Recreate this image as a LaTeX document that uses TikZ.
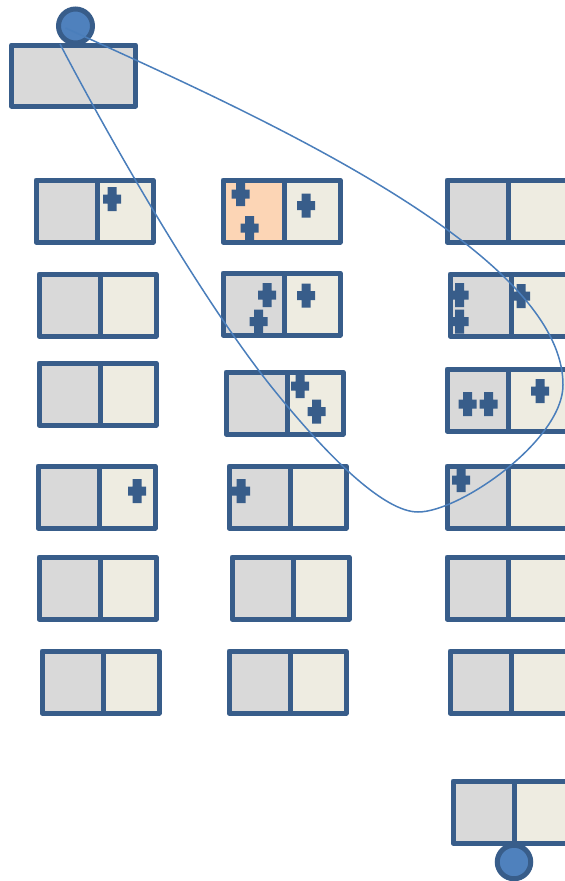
\documentclass[tikz,border=0pt]{standalone}
\usetikzlibrary{calc}
\definecolor{borderC}{HTML}{385D8A}
\definecolor{grayC}{HTML}{D9D9D9}
\definecolor{beigeC}{HTML}{EEECE1}
\definecolor{orangeC}{HTML}{FCD5B5}
\definecolor{circC}{HTML}{4F81BD}
\definecolor{curveC}{HTML}{4A7EBB}
\tikzset{
  cell/.style={draw=borderC, line width=5pt, inner sep=0pt, outer sep=0pt, minimum height=62pt, line join=round, shape=rectangle},
  crossfill/.style={fill=borderC},
  dot/.style={circle, draw=borderC, fill=circC, line width=5pt, inner sep=0pt, outer sep=0pt},
  loopline/.style={draw=curveC, line width=1.5pt}
}
% name, x, y, left fill, right width
\newcommand\pbox[5]{%
  \node[cell, fill=#4, minimum width=61pt, anchor=north west] (#1l) at (#2,#3) {};
  \node[cell, fill=beigeC, minimum width=#5pt, anchor=north west] (#1r) at (#1l.north east) {};}
\newcommand\crs[2]{%
  \fill[crossfill] ({#1-4.5},{#2-12}) rectangle ({#1+4.5},{#2+12})
                   ({#1-9},{#2-4.5}) rectangle ({#1+9},{#2+4.5});}
\begin{document}
\begin{tikzpicture}[x=1pt,y=-1pt]
\clip (0,0) rectangle (565,881);
\fill[white] (0,0) rectangle (565,881);
% top box
\node[cell, fill=grayC, minimum width=124pt, minimum height=61pt, anchor=north west] (t) at (11.5,45) {};
% column 1
\pbox{a1}{36}{180}{grayC}{56}
\pbox{a2}{39}{274}{grayC}{56}
\pbox{a3}{39}{363}{grayC}{56}
\pbox{a4}{38}{466}{grayC}{56}
\pbox{a5}{39}{557}{grayC}{56}
\pbox{a6}{42}{651}{grayC}{56}
% column 2
\pbox{b1}{223}{180}{orangeC}{56}
\pbox{b2}{223}{273}{grayC}{56}
\pbox{b3}{226}{372}{grayC}{56}
\pbox{b4}{229}{466}{grayC}{56}
\pbox{b5}{232}{557}{grayC}{56}
\pbox{b6}{229}{651}{grayC}{56}
% column 3
\pbox{c1x}{447}{180}{grayC}{62}
\pbox{c2x}{450}{274}{grayC}{62}
\pbox{c3x}{447}{369}{grayC}{62}
\pbox{c4x}{447}{466}{grayC}{62}
\pbox{c5x}{447}{557}{grayC}{62}
\pbox{c6x}{450}{651}{grayC}{62}
\pbox{c7x}{453}{781}{grayC}{62}
% crosses
\crs{112}{199}
\crs{137}{491}
\crs{240.5}{194}
\crs{249.5}{228}
\crs{306}{205.5}
\crs{267}{295}
\crs{258.5}{321.5}
\crs{306}{295.5}
\crs{300}{386}
\crs{316.5}{411.5}
\crs{241}{491}
\crs{459.5}{295}
\crs{459.5}{321.5}
\crs{521}{296}
\crs{467.5}{404}
\crs{488.5}{404}
\crs{540}{391}
\crs{461}{480}
% circles
\node[dot, minimum size=34pt] (c1) at (75.5,26) {};
\node[dot, minimum size=33.5pt] (c2) at (514,862) {};
% loop
\coordinate (s) at ($(c1)+(-10,2)$);
\coordinate (e) at ($(c1)+(-15.5,18)$);
\draw[loopline] (s) .. controls (250,112) and (563,250) .. (563,385)
  .. controls (563,440) and (460,512) .. (418,512)
  .. controls (385,512) and (330,460) .. (270,385)
  .. controls (195,290) and (105,130) .. (e);
\end{tikzpicture}
\end{document}
